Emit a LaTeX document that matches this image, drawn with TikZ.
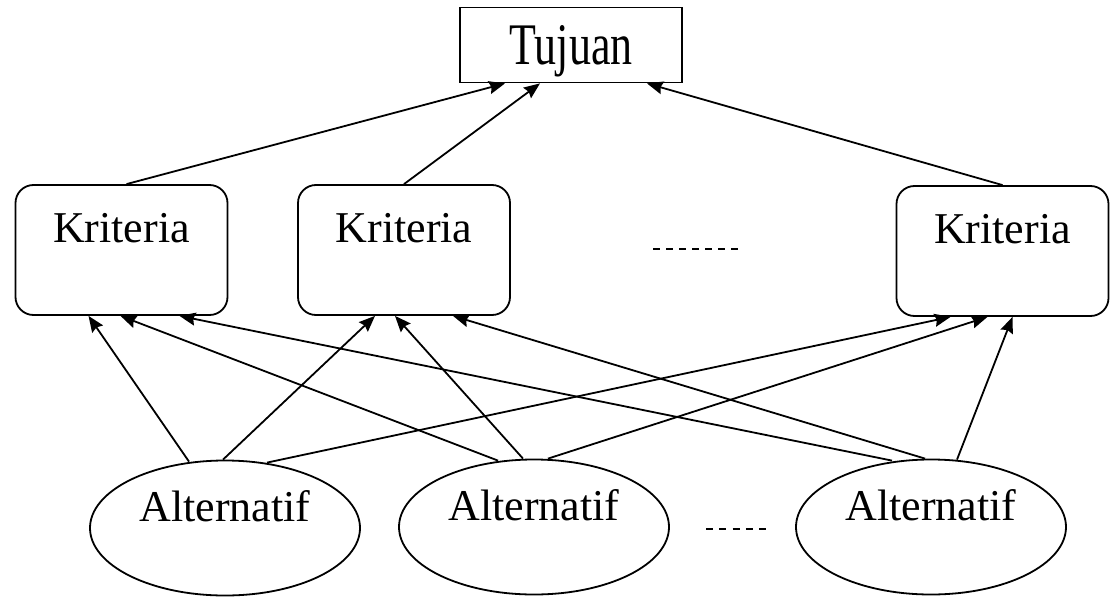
\documentclass[tikz,border=0pt]{standalone}
\usepackage{fontspec}
\usepackage{graphicx}
\setmainfont{Liberation Serif}
\usetikzlibrary{shapes.geometric,arrows.meta}

\begin{document}
\begin{tikzpicture}[x=1pt,y=-1pt,>={Stealth[length=16pt,width=13pt,inset=2pt]},line width=1.8pt]
\tikzstyle{every node}=[font=\fontsize{44}{52}\selectfont,inner sep=0pt];
\tikzstyle{goal}=[draw,rectangle,minimum width=222pt,minimum height=75pt,text height=39pt,text depth=0pt];
\tikzstyle{crit}=[draw,rectangle,rounded corners=18pt,minimum width=212pt,minimum height=130pt,text height=30pt,text depth=46pt];
\tikzstyle{alt}=[draw,ellipse,minimum width=270pt,minimum height=135pt,text height=30pt,text depth=44pt];
\useasboundingbox (0,0) rectangle (1114,597);
% level 1: goal
    \node[goal] (t) at (571,45) {\scalebox{1}[1.34]{Tujuan}};
% level 2: criteria
    \node[crit] (k1) at (121.5,250) {Kriteria};
    \node[crit] (k2) at (404,250)   {Kriteria};
    \node[crit] (k3) at (1002.5,251) {Kriteria};
    \coordinate (kd1) at (653,249);
    \coordinate (kd2) at (738,249);
% level 3: alternatives
    \node[alt] (a1) at (225,528) {Alternatif};
    \node[alt] (a2) at (534,527) {Alternatif};
    \node[alt] (a3) at (931,527) {Alternatif};
    \coordinate (ad1) at (706,529);
    \coordinate (ad2) at (766,529);
% dots
    \draw[line width=1.3pt,dash pattern=on 7pt off 6pt] (kd1) -- (kd2);
    \draw[line width=1.3pt,dash pattern=on 7pt off 6.25pt] (ad1) -- (ad2);
% edges criteria -> goal
    \draw[->] ([xshift=5pt]k1.north) -- ([xshift=-66pt]t.south);
    \draw[->] (k2.north) -- ([xshift=-31pt]t.south);
    \draw[->] (k3.north) -- ([xshift=76pt]t.south);
% edges alternatives -> criteria
    \draw[->] ([xshift=-36pt,yshift=-2pt]a1.north) -- ([xshift=-33pt]k1.south);
    \draw[->] ([xshift=-2pt]a1.north) -- ([xshift=-29pt]k2.south);
    \draw[->] ([xshift=42pt,yshift=-3pt]a1.north) -- ([xshift=-52pt]k3.south);
    \draw[->] ([xshift=-36pt,yshift=-2pt]a2.north) -- ([xshift=-1pt]k1.south);
    \draw[->] ([xshift=-11pt]a2.north) -- ([xshift=-9pt]k2.south);
    \draw[->] ([xshift=14pt]a2.north) -- ([xshift=-15pt]k3.south);
    \draw[->] ([xshift=-39pt,yshift=-2pt]a3.north) -- ([xshift=58pt]k1.south);
    \draw[->] ([xshift=-6pt]a3.north) -- ([xshift=49pt]k2.south);
    \draw[->] ([xshift=26pt,yshift=-1pt]a3.north) -- ([xshift=10pt]k3.south);
\end{tikzpicture}
\end{document}
